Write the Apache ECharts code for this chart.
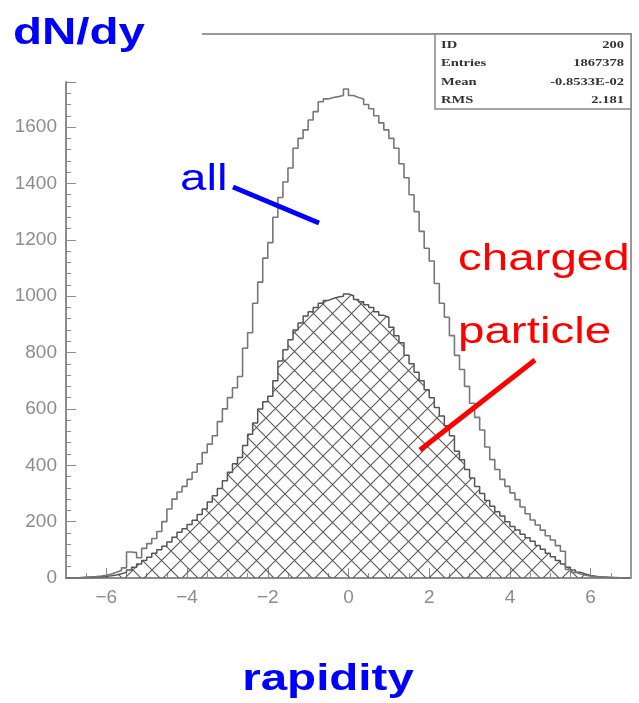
<!DOCTYPE html>
<html>
<head>
<meta charset="utf-8">
<script src="https://cdn.jsdelivr.net/npm/echarts@6/dist/echarts.min.js"></script>
<style>
  html, body { margin: 0; padding: 0; background: #fff; }
  #chart { width: 639px; height: 703px; }
</style>
</head>
<body>
<div id="chart"></div>
<script>
// histogram binning (rapidity), 112 bins from -7 to 7
const binMin = -7
const binWidth = 0.125

// dN/dy, all particles
const allCounts = [
  0, 0, 2, 3, 4, 5, 7, 10,
  14, 20, 27, 36, 92, 90, 72, 105,
  122, 140, 165, 200, 245, 280, 305, 325,
  350, 375, 405, 445, 475, 505, 555, 600,
  640, 675, 715, 815, 870, 975, 1050, 1135,
  1190, 1280, 1350, 1405, 1455, 1525, 1560, 1590,
  1625, 1655, 1690, 1700, 1705, 1708, 1712, 1735,
  1712, 1705, 1700, 1680, 1665, 1640, 1615, 1590,
  1560, 1525, 1470, 1420, 1360, 1300, 1230, 1170,
  1125, 1045, 975, 925, 860, 790, 740, 680,
  620, 570, 525, 465, 420, 385, 350, 325,
  302, 278, 252, 228, 206, 188, 170, 150,
  135, 115, 95, 30, 20, 14, 10, 7,
  5, 4, 3, 2, 2, 1, 0, 0,
]

// dN/dy, charged particles (hatched)
const chargedCounts = [
  0, 0, 1, 1, 2, 3, 4, 6,
  8, 11, 15, 20, 28, 38, 50, 62,
  74, 88, 100, 113, 128, 145, 162, 175,
  190, 205, 225, 245, 270, 292, 318, 345,
  375, 405, 428, 470, 510, 550, 600, 625,
  645, 700, 770, 810, 845, 880, 905, 930,
  945, 960, 975, 985, 992, 997, 1000, 1008,
  1002, 988, 980, 970, 960, 945, 932, 925,
  890, 860, 835, 790, 760, 730, 700, 668,
  640, 605, 575, 540, 505, 450, 420, 385,
  355, 325, 300, 275, 255, 235, 220, 200,
  183, 170, 155, 143, 130, 115, 102, 88,
  75, 62, 50, 38, 28, 20, 14, 9,
  6, 4, 3, 2, 1, 1, 0, 0,
]

// statistics box
const statLabels = ['ID', 'Entries', 'Mean', 'RMS']
const statValues = ['200', '1867378', '-0.8533E-02', '2.181']

const axisGray = '#8c8c8c'
const stretch = 1.32

function toSteps(counts) {
  const pts = counts.map((v, i) => [binMin + i * binWidth, v])
  pts.push([binMin + counts.length * binWidth, counts[counts.length - 1]])
  return pts
}

function hatchPattern() {
  const s = 19
  const c = document.createElement('canvas')
  c.width = s
  c.height = s
  const g = c.getContext('2d')
  g.strokeStyle = '#5a5a5a'
  g.lineWidth = 1.1
  g.beginPath()
  g.moveTo(0, 0); g.lineTo(s, s)
  g.moveTo(0, s); g.lineTo(s, 0)
  g.stroke()
  return c
}

function label(text, x, y, font, fill, align) {
  return {
    type: 'text', x, y, scaleX: stretch, z: 100,
    style: {
      text, font, fill,
      align: align || 'left', verticalAlign: 'middle',
      textAlign: align || 'left', textVerticalAlign: 'middle',
    },
  }
}

const chart = echarts.init(document.getElementById('chart'), null, { renderer: 'canvas' })

const statRowsY = [45, 63, 82, 100]
const statGraphics = []
statLabels.forEach((t, i) => {
  statGraphics.push(label(t, 441, statRowsY[i], 'bold 11px "Liberation Serif"', '#333'))
  statGraphics.push(label(statValues[i], 624, statRowsY[i], 'bold 11px "Liberation Serif"', '#333', 'right'))
})

const tickFont = '"Liberation Sans", Arial, sans-serif'

const option = {
  animation: false,
  backgroundColor: '#fff',
  grid: { left: 66, right: 8, top: 82, bottom: 125, containLabel: false, outerBoundsMode: 'none' },
  xAxis: {
    type: 'value',
    min: -7,
    max: 7,
    splitNumber: 7,
    axisLine: { show: true, onZero: false, lineStyle: { color: axisGray, width: 2 } },
    axisTick: { show: true, inside: true, length: 10, lineStyle: { color: axisGray } },
    minorTick: { show: true, splitNumber: 4, length: 5, lineStyle: { color: axisGray } },
    splitLine: { show: false },
    axisLabel: {
      showMinLabel: false,
      showMaxLabel: false,
      color: axisGray,
      fontSize: 19,
      fontFamily: tickFont,
      margin: 10,
      formatter: (v) => (v < 0 ? '\u2212' + Math.abs(v) : String(v)),
    },
  },
  yAxis: {
    type: 'value',
    min: 0,
    max: 1760,
    interval: 200,
    axisLine: { show: true, onZero: false, lineStyle: { color: axisGray, width: 2 } },
    axisTick: { show: true, inside: true, length: 10, lineStyle: { color: axisGray } },
    minorTick: { show: true, splitNumber: 5, length: 5, lineStyle: { color: axisGray } },
    splitLine: { show: false },
    axisLabel: {
      showMaxLabel: false,
      color: axisGray,
      fontSize: 19,
      fontFamily: tickFont,
      margin: 9,
      formatter: (v) => String(v),
    },
  },
  series: [
    {
      name: 'charged',
      type: 'line',
      step: 'end',
      symbol: 'none',
      data: toSteps(chargedCounts),
      lineStyle: { color: '#555', width: 1.5 },
      areaStyle: { color: { image: hatchPattern(), repeat: 'repeat' }, opacity: 1 },
      z: 2,
    },
    {
      name: 'all',
      type: 'line',
      step: 'end',
      symbol: 'none',
      data: toSteps(allCounts),
      lineStyle: { color: '#777', width: 1.6 },
      z: 3,
    },
  ],
  graphic: [
    // outer frame (top + right) and stats box
    {
      type: 'polyline', z: 50,
      shape: { points: [[202, 34], [631, 34], [631, 578]] },
      style: { stroke: '#999', lineWidth: 2, fill: null },
    },
    {
      type: 'rect', z: 60,
      shape: { x: 435, y: 34, width: 196, height: 75 },
      style: { stroke: '#888', lineWidth: 1.5, fill: '#fff' },
    },
    ...statGraphics,
    label('dN/dy', 13, 34, 'bold 36px "Liberation Sans", Arial, sans-serif', '#0000ff'),
    label('rapidity', 328, 680, 'bold 36px "Liberation Sans", Arial, sans-serif', '#0000ff', 'center'),
    label('all', 180, 180, '36px "Liberation Sans", Arial, sans-serif', '#0000ff'),
    label('charged', 458, 260, '36px "Liberation Sans", Arial, sans-serif', '#ff0000'),
    label('particle', 458, 333, '36px "Liberation Sans", Arial, sans-serif', '#ff0000'),
    {
      type: 'line', z: 100,
      shape: { x1: 233, y1: 187, x2: 319, y2: 223 },
      style: { stroke: '#0000ff', lineWidth: 5 },
    },
    {
      type: 'line', z: 100,
      shape: { x1: 535, y1: 360, x2: 420, y2: 450 },
      style: { stroke: '#ff0000', lineWidth: 5 },
    },
  ],
}

chart.setOption(option)
</script>
</body>
</html>
